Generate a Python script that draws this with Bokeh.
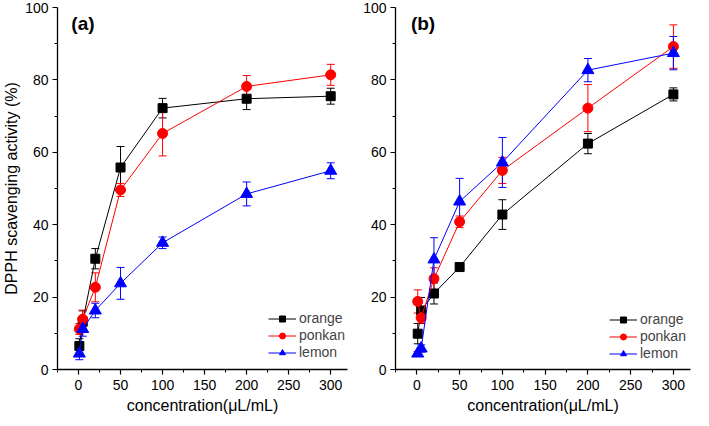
from bokeh.plotting import figure
from bokeh.models import (ColumnDataSource, Range1d, FixedTicker, Whisker, TeeHead,
                          Legend, LegendItem, Label)
from bokeh.layouts import row
from bokeh.embed import file_html
from bokeh.resources import INLINE

FONT = "Liberation Sans"

conc = [1, 5, 20, 50, 100, 200, 300]
series_names = ["orange", "ponkan", "lemon"]
colors = ["#000000", "#ff0000", "#0000ff"]
markers = ["square", "circle", "triangle"]
marker_sizes = [9, 10, 12]

# Panel (a)
a_orange = [6.5, 13.2, 30.6, 55.8, 72.2, 74.8, 75.5]
a_orange_err = [2.0, 3.0, 2.8, 5.8, 2.7, 3.0, 2.2]
a_ponkan = [11.2, 13.9, 22.7, 49.6, 65.2, 78.2, 81.4]
a_ponkan_err = [1.5, 2.5, 4.0, 1.8, 6.2, 3.0, 2.9]
a_lemon = [4.4, 11.2, 16.3, 23.8, 35.0, 48.5, 54.9]
a_lemon_err = [1.7, 2.0, 2.0, 4.4, 1.6, 3.3, 2.2]

# Panel (b)
b_orange = [9.9, 16.3, 21.0, 28.3, 42.8, 62.4, 76.0]
b_orange_err = [2.8, 3.6, 2.9, 1.0, 4.1, 2.8, 1.8]
b_ponkan = [18.8, 14.3, 25.1, 40.8, 55.0, 72.2, 89.2]
b_ponkan_err = [3.2, 1.5, 3.0, 1.6, 3.6, 6.5, 6.0]
b_lemon = [4.4, 5.8, 30.4, 46.4, 57.2, 82.7, 87.4]
b_lemon_err = [0.5, 1.0, 6.0, 6.4, 6.9, 3.2, 4.6]

y_ticks = [0, 20, 40, 60, 80, 100]
y_minor = [10, 30, 50, 70, 90]
x_ticks = [0, 50, 100, 150, 200, 250, 300]
x_minor = [-25, 25, 75, 125, 175, 225, 275]

x_label = "concentration(μL/mL)"
y_label = "DPPH scavenging activity (%)"


def make_panel(tag, values, errors, width, border_left, border_right, ylabel,
               legend_loc, tag_x):
    p = figure(width=width, height=416, output_backend="svg", toolbar_location=None,
               x_range=Range1d(-25, 320), y_range=Range1d(0, 100),
               min_border_left=border_left, min_border_right=border_right,
               min_border_top=7, min_border_bottom=47)
    p.outline_line_color = None
    p.xgrid.visible = False
    p.ygrid.visible = False
    p.background_fill_color = "white"

    for ax in (p.xaxis[0], p.yaxis[0]):
        ax.axis_line_color = "black"
        ax.axis_line_width = 1.3
        ax.major_tick_line_color = "black"
        ax.minor_tick_line_color = "black"
        ax.major_tick_line_width = 1.2
        ax.minor_tick_line_width = 1.0
        ax.major_tick_out = 5
        ax.major_tick_in = 0
        ax.minor_tick_out = 3
        ax.minor_tick_in = 0
        ax.major_label_text_font = FONT
        ax.major_label_text_font_size = "14px"
        ax.major_label_text_color = "black"
        ax.axis_label_text_font = FONT
        ax.axis_label_text_font_size = "16px"
        ax.axis_label_text_font_style = "normal"
        ax.axis_label_text_color = "black"
        ax.major_label_standoff = 4
    p.xaxis[0].ticker = FixedTicker(ticks=x_ticks, minor_ticks=x_minor)
    p.yaxis[0].ticker = FixedTicker(ticks=y_ticks, minor_ticks=y_minor)
    p.xaxis[0].axis_label = x_label
    p.xaxis[0].major_label_standoff = 5
    p.xaxis[0].axis_label_standoff = 4
    if ylabel:
        p.yaxis[0].axis_label = ylabel
        p.yaxis[0].axis_label_standoff = 2

    items = []
    for name, col, mk, ms, v, e in zip(series_names, colors, markers, marker_sizes,
                                       values, errors):
        src = ColumnDataSource(dict(x=conc, y=v,
                                    upper=[a + b for a, b in zip(v, e)],
                                    lower=[a - b for a, b in zip(v, e)]))
        w = Whisker(source=src, base="x", upper="upper", lower="lower",
                    dimension="height", line_color=col, line_width=1,
                    upper_head=TeeHead(size=8, line_color=col, line_width=1),
                    lower_head=TeeHead(size=8, line_color=col, line_width=1))
        p.add_layout(w)
        lr = p.line("x", "y", source=src, line_color=col, line_width=1)
        sr = p.scatter("x", "y", source=src, marker=mk, size=ms,
                       fill_color=col, line_color=col)
        items.append(LegendItem(label=name, renderers=[lr, sr]))

    leg = Legend(items=items, location=legend_loc, padding=0, margin=0, spacing=1,
                 glyph_width=28, glyph_height=15, label_height=15,
                 label_standoff=3, label_text_font=FONT, label_text_font_size="14px",
                 background_fill_alpha=0, border_line_color=None)
    p.add_layout(leg, "center")

    p.add_layout(Label(x=tag_x, y=95.6, text=tag, text_font=FONT,
                       text_font_size="19px", text_font_style="bold",
                       text_baseline="middle", text_align="left",
                       text_color="black"))
    return p


pa = make_panel("(a)", [a_orange, a_ponkan, a_lemon],
                [a_orange_err, a_ponkan_err, a_lemon_err],
                349, 54, 2, y_label, (211, 9), -8.5)
pb = make_panel("(b)", [b_orange, b_ponkan, b_lemon],
                [b_orange_err, b_ponkan_err, b_lemon_err],
                344, 46, 3, None, (214, 8), -7)

layout = row(pa, pb)
open("out.html", "w").write(file_html(layout, INLINE))
